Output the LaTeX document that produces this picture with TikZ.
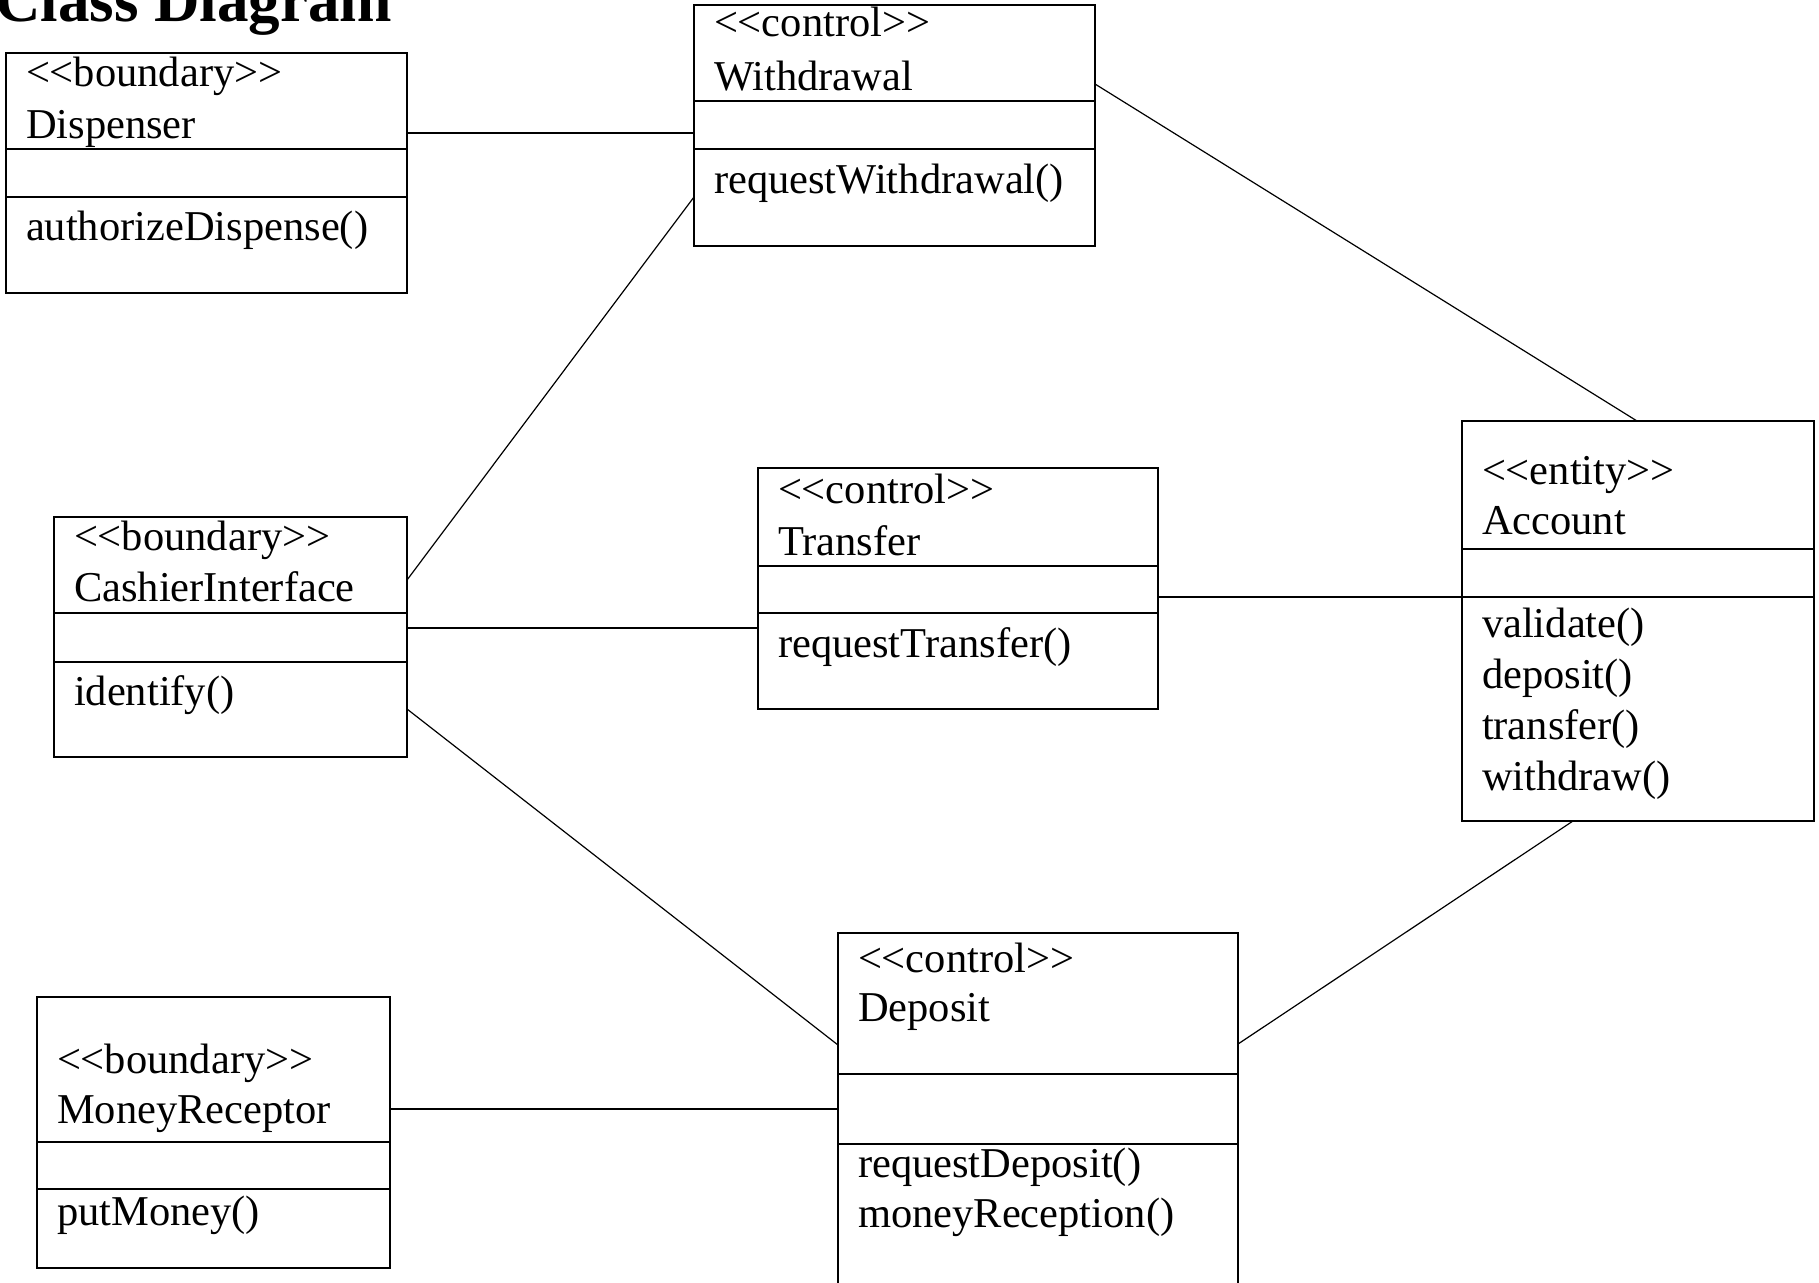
\documentclass[tikz,border=0pt]{standalone}
\usepackage{fontspec}
\setmainfont{Liberation Serif}[Ligatures=TeXOff]
\begin{document}
\begin{tikzpicture}[x=1pt,y=-1pt,
  classbox/.style={draw, line width=1.4pt, rectangle, inner sep=0pt, outer sep=0pt, anchor=north west},
  divider/.style={line width=1.4pt},
  assoc/.style={line width=1.2pt},
  lbl/.style={anchor=base west, inner sep=0pt, outer sep=0pt, font=\fontsize{42.5}{51}\selectfont},
  heading/.style={anchor=base west, inner sep=0pt, outer sep=0pt, font=\fontsize{63}{70}\selectfont\bfseries}]
\clip (0,0) rectangle (1819,1282);
\fill[white] (0,0) rectangle (1819,1282);

% title
\node[heading] (title) at (-5,21) {Class Diagram};

% Dispenser
\node[classbox, minimum width=401pt, minimum height=240pt] (disp) at (6,53) {};
\draw[divider] (disp.west |- 0,149) -- (disp.east |- 0,149);
\draw[divider] (disp.west |- 0,197) -- (disp.east |- 0,197);
\node[lbl] (disp-st) at (26,86.5) {<<boundary>>};
\node[lbl] (disp-nm) at (26,138) {Dispenser};
\node[lbl] (disp-op) at (26,240) {authorizeDispense()};

% Withdrawal
\node[classbox, minimum width=401pt, minimum height=241pt] (wd) at (694,5) {};
\draw[divider] (wd.west |- 0,101) -- (wd.east |- 0,101);
\draw[divider] (wd.west |- 0,149) -- (wd.east |- 0,149);
\node[lbl] (wd-st) at (714,36.5) {<<control>>};
\node[lbl] (wd-nm) at (714,90) {Withdrawal};
\node[lbl] (wd-op) at (714,193) {requestWithdrawal()};

% CashierInterface
\node[classbox, minimum width=353pt, minimum height=240pt] (ci) at (54,517) {};
\draw[divider] (ci.west |- 0,613) -- (ci.east |- 0,613);
\draw[divider] (ci.west |- 0,662) -- (ci.east |- 0,662);
\node[lbl] (ci-st) at (74,550.5) {<<boundary>>};
\node[lbl] (ci-nm) at (74,601) {CashierInterface};
\node[lbl] (ci-op) at (74,705.5) {identify()};

% Transfer
\node[classbox, minimum width=400pt, minimum height=241pt] (tr) at (758,468) {};
\draw[divider] (tr.west |- 0,566) -- (tr.east |- 0,566);
\draw[divider] (tr.west |- 0,613) -- (tr.east |- 0,613);
\node[lbl] (tr-st) at (778,503) {<<control>>};
\node[lbl] (tr-nm) at (778,555) {Transfer};
\node[lbl] (tr-op) at (778,657.5) {requestTransfer()};

% Account
\node[classbox, minimum width=352pt, minimum height=400pt] (acc) at (1462,421) {};
\draw[divider] (acc.west |- 0,549) -- (acc.east |- 0,549);
\draw[divider] (acc.west |- 0,597) -- (acc.east |- 0,597);
\node[lbl] (acc-st) at (1482,484.5) {<<entity>>};
\node[lbl] (acc-nm) at (1482,534) {Account};
\node[lbl] (acc-op1) at (1482,637) {validate()};
\node[lbl] (acc-op2) at (1482,688) {deposit()};
\node[lbl] (acc-op3) at (1482,739) {transfer()};
\node[lbl] (acc-op4) at (1482,790) {withdraw()};

% Deposit
\node[classbox, minimum width=400pt, minimum height=420pt] (dep) at (838,933) {};
\draw[divider] (dep.west |- 0,1074) -- (dep.east |- 0,1074);
\draw[divider] (dep.west |- 0,1144) -- (dep.east |- 0,1144);
\node[lbl] (dep-st) at (858,972) {<<control>>};
\node[lbl] (dep-nm) at (858,1021) {Deposit};
\node[lbl] (dep-op1) at (858,1177) {requestDeposit()};
\node[lbl] (dep-op2) at (858,1227.5) {moneyReception()};

% MoneyReceptor
\node[classbox, minimum width=353pt, minimum height=271pt] (mr) at (37,997) {};
\draw[divider] (mr.west |- 0,1142) -- (mr.east |- 0,1142);
\draw[divider] (mr.west |- 0,1189) -- (mr.east |- 0,1189);
\node[lbl] (mr-st) at (57,1073.5) {<<boundary>>};
\node[lbl] (mr-nm) at (57,1123) {MoneyReceptor};
\node[lbl] (mr-op) at (57,1225) {putMoney()};

% associations
\draw[assoc] (disp.east |- 0,133) -- (wd.west |- 0,133);
\draw[assoc] (ci.east |- 0,580) -- (wd.west |- 0,197);
\draw[assoc] (wd.east |- 0,84) -- (acc.north -| 1637,0);
\draw[assoc] (ci.east |- 0,628) -- (tr.west |- 0,628);
\draw[assoc] (tr.east |- 0,597) -- (acc.west |- 0,597);
\draw[assoc] (ci.east |- 0,709) -- (dep.west |- 0,1045);
\draw[assoc] (acc.south -| 1573,0) -- (dep.east |- 0,1044);
\draw[assoc] (mr.east |- 0,1109) -- (dep.west |- 0,1109);
\end{tikzpicture}
\end{document}
